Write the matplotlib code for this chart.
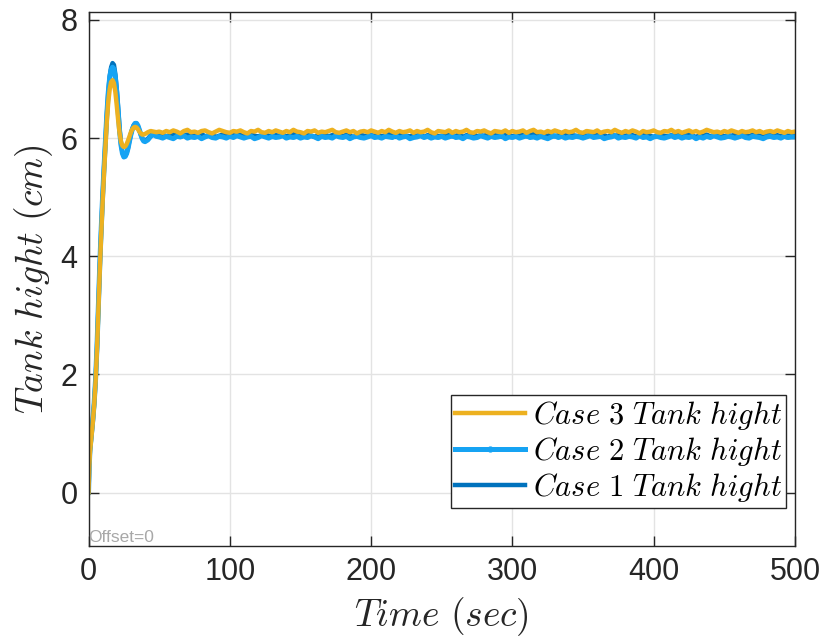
import matplotlib
matplotlib.use('Agg')
import matplotlib.pyplot as plt
from matplotlib.lines import Line2D

plt.rcParams['mathtext.fontset'] = 'cm'
plt.rcParams['font.family'] = ['Liberation Sans', 'DejaVu Sans']

# transient part (t = 0..48 s)
t_start = [0, 0.5, 1, 2, 3, 4, 5, 6, 7, 8, 9, 10, 11, 12, 13, 14, 15, 16, 17, 18,
           19, 20, 21, 22, 23, 24, 25, 26, 27, 28, 29, 30, 31, 32, 33, 34, 35, 36,
           37, 38, 39, 40, 42, 44, 46, 48]

case1_start = [0, 0.45, 0.7, 0.95, 1.2, 1.5, 1.9, 2.45, 3.15, 3.85, 4.45, 5.0, 5.5, 5.95,
               6.4, 6.78, 7.05, 7.2, 7.27, 7.24, 7.08, 6.82, 6.5, 6.15, 5.9, 5.76, 5.7,
               5.7, 5.75, 5.84, 5.96, 6.07, 6.16, 6.22, 6.25, 6.24, 6.2, 6.13, 6.06, 6.0,
               5.97, 5.96, 5.99, 6.05, 6.07, 6.04]
case2_start = [0, 0.45, 0.72, 0.97, 1.22, 1.52, 1.92, 2.48, 3.18, 3.88, 4.48, 5.03, 5.52,
               5.97, 6.42, 6.78, 7.03, 7.16, 7.2, 7.17, 7.02, 6.78, 6.45, 6.12, 5.88,
               5.74, 5.68, 5.69, 5.74, 5.83, 5.95, 6.06, 6.15, 6.21, 6.25, 6.25, 6.21,
               6.14, 6.06, 5.99, 5.95, 5.94, 5.97, 6.03, 6.06, 6.03]
case3_start = [0, 0.43, 0.68, 0.93, 1.18, 1.48, 1.88, 2.42, 3.1, 3.78, 4.38, 4.93, 5.42,
               5.87, 6.3, 6.62, 6.83, 6.95, 6.98, 6.93, 6.78, 6.55, 6.3, 6.08, 5.94,
               5.87, 5.85, 5.86, 5.9, 5.96, 6.03, 6.1, 6.15, 6.18, 6.19, 6.18, 6.15,
               6.11, 6.08, 6.06, 6.06, 6.07, 6.1, 6.12, 6.11, 6.1]

# steady part (t = 50..500 s, every 2.5 s)
t_steady = [50 + 2.5 * i for i in range(181)]

case1_steady = [
    6.04, 6.06, 6.03, 6.05, 6.07, 6.04, 6.02, 6.05, 6.06, 6.03, 6.05, 6.04, 6.07, 6.03, 6.05, 6.06, 6.02, 6.04, 6.06, 6.05,
    6.03, 6.05, 6.04, 6.06, 6.02, 6.05, 6.07, 6.04, 6.03, 6.05, 6.06, 6.04, 6.02, 6.05, 6.04, 6.06, 6.03, 6.05, 6.07, 6.04,
    6.05, 6.03, 6.06, 6.04, 6.02, 6.05, 6.04, 6.06, 6.03, 6.05, 6.07, 6.04, 6.03, 6.06, 6.04, 6.02, 6.05, 6.06, 6.04, 6.03,
    6.05, 6.04, 6.06, 6.03, 6.05, 6.07, 6.04, 6.02, 6.05, 6.06, 6.04, 6.03, 6.05, 6.04, 6.06, 6.02, 6.05, 6.04, 6.07, 6.03,
    6.04, 6.06, 6.05, 6.03, 6.04, 6.06, 6.02, 6.05, 6.04, 6.07, 6.03, 6.05, 6.04, 6.06, 6.03, 6.05, 6.04, 6.02, 6.06, 6.05,
    6.03, 6.05, 6.04, 6.06, 6.03, 6.05, 6.07, 6.04, 6.02, 6.05, 6.04, 6.06, 6.03, 6.05, 6.04, 6.06, 6.02, 6.05, 6.04, 6.03,
    6.06, 6.04, 6.05, 6.03, 6.07, 6.04, 6.05, 6.02, 6.06, 6.04, 6.05, 6.03, 6.04, 6.06, 6.05, 6.03, 6.04, 6.07, 6.05, 6.04,
    6.02, 6.05, 6.06, 6.04, 6.03, 6.05, 6.04, 6.06, 6.03, 6.05, 6.07, 6.04, 6.02, 6.05, 6.04, 6.06, 6.03, 6.05, 6.04, 6.06,
    6.03, 6.05, 6.04, 6.06, 6.02, 6.05, 6.04, 6.03, 6.06, 6.05, 6.04, 6.03, 6.05, 6.07, 6.04, 6.05, 6.03, 6.06, 6.04, 6.05,
    6.04]
case2_steady = [
    6.02, 6.00, 6.03, 6.01, 5.99, 6.03, 6.02, 6.04, 6.00, 6.02, 6.01, 6.03, 5.99, 6.02, 6.04, 6.01, 6.00, 6.03, 6.02, 6.00,
    6.03, 6.01, 6.04, 6.02, 6.00, 6.02, 6.03, 5.99, 6.01, 6.04, 6.02, 6.00, 6.03, 6.01, 6.02, 6.04, 6.00, 6.02, 6.01, 6.03,
    6.00, 6.02, 6.01, 6.04, 6.02, 5.99, 6.03, 6.01, 6.02, 6.00, 6.04, 6.02, 6.01, 6.03, 5.99, 6.02, 6.03, 6.01, 6.00, 6.02,
    6.04, 6.01, 6.02, 6.00, 6.03, 6.02, 6.01, 6.04, 6.00, 6.02, 6.03, 5.99, 6.01, 6.02, 6.04, 6.01, 6.03, 6.00, 6.02, 6.01,
    6.03, 6.00, 6.02, 6.04, 6.01, 6.02, 5.99, 6.03, 6.02, 6.00, 6.01, 6.04, 6.02, 6.00, 6.03, 6.01, 6.02, 6.04, 5.99, 6.02,
    6.01, 6.03, 6.00, 6.02, 6.04, 6.01, 6.02, 6.00, 6.03, 6.01, 5.99, 6.02, 6.04, 6.01, 6.03, 6.00, 6.02, 6.01, 6.03, 6.02,
    6.00, 6.02, 6.04, 6.01, 6.02, 6.03, 5.99, 6.01, 6.02, 6.04, 6.00, 6.02, 6.01, 6.03, 6.02, 6.00, 6.04, 6.01, 6.02, 5.99,
    6.02, 6.03, 6.01, 6.00, 6.02, 6.04, 6.01, 6.03, 6.00, 6.02, 6.01, 6.03, 5.99, 6.02, 6.00, 6.03, 6.01, 6.04, 6.02, 6.00,
    6.01, 6.03, 6.02, 6.00, 6.02, 6.04, 6.01, 6.00, 6.03, 6.02, 6.01, 5.99, 6.02, 6.03, 6.01, 6.02, 6.00, 6.03, 6.01, 6.02,
    6.02]
case3_steady = [
    6.11, 6.09, 6.12, 6.10, 6.13, 6.11, 6.08, 6.12, 6.14, 6.10, 6.11, 6.09, 6.12, 6.13, 6.10, 6.08, 6.11, 6.14, 6.12, 6.10,
    6.09, 6.12, 6.11, 6.13, 6.10, 6.08, 6.12, 6.11, 6.14, 6.10, 6.09, 6.12, 6.10, 6.13, 6.11, 6.09, 6.12, 6.10, 6.14, 6.11,
    6.10, 6.08, 6.12, 6.11, 6.13, 6.09, 6.11, 6.10, 6.12, 6.14, 6.10, 6.09, 6.11, 6.13, 6.10, 6.12, 6.08, 6.11, 6.12, 6.10,
    6.13, 6.11, 6.09, 6.12, 6.10, 6.14, 6.11, 6.09, 6.12, 6.10, 6.11, 6.13, 6.09, 6.12, 6.10, 6.11, 6.14, 6.10, 6.08, 6.12,
    6.11, 6.10, 6.13, 6.09, 6.12, 6.10, 6.11, 6.14, 6.10, 6.09, 6.12, 6.11, 6.13, 6.10, 6.08, 6.12, 6.11, 6.10, 6.13, 6.09,
    6.12, 6.10, 6.11, 6.13, 6.09, 6.12, 6.14, 6.10, 6.11, 6.09, 6.12, 6.10, 6.13, 6.11, 6.09, 6.12, 6.10, 6.11, 6.14, 6.10,
    6.09, 6.12, 6.11, 6.10, 6.13, 6.09, 6.11, 6.12, 6.10, 6.14, 6.11, 6.09, 6.12, 6.10, 6.13, 6.11, 6.08, 6.12, 6.10, 6.11,
    6.13, 6.10, 6.09, 6.12, 6.11, 6.14, 6.10, 6.12, 6.09, 6.11, 6.13, 6.10, 6.12, 6.09, 6.11, 6.14, 6.12, 6.10, 6.11, 6.09,
    6.12, 6.10, 6.13, 6.11, 6.09, 6.12, 6.10, 6.11, 6.13, 6.10, 6.12, 6.09, 6.11, 6.12, 6.10, 6.13, 6.11, 6.09, 6.12, 6.10,
    6.11]

t_all = t_start + t_steady
case1 = case1_start + case1_steady
case2 = case2_start + case2_steady
case3 = case3_start + case3_steady

c1 = '#0072BD'
c2 = '#16A3F3'
c3 = '#EDB120'
labels = [r'$Case\ 1\ Tank\ hight$', r'$Case\ 2\ Tank\ hight$', r'$Case\ 3\ Tank\ hight$']

fig = plt.figure(figsize=(8.25, 6.43), dpi=100)
ax = fig.add_axes([0.1073, 0.1513, 0.8563, 0.8305])

ax.plot(t_all, case1, color=c1, lw=3.2, solid_joinstyle='round')
ax.plot(t_all, case2, color=c2, lw=3.6, solid_joinstyle='round')
ax.plot(t_all, case3, color=c3, lw=3.2, solid_joinstyle='round')

ax.set_xlim(0, 500)
ax.set_ylim(-0.9, 8.14)
ax.set_xticks([0, 100, 200, 300, 400, 500])
ax.set_yticks([0, 2, 4, 6, 8])
ax.grid(True, color='#E3E3E3', lw=1)
ax.set_axisbelow(True)

for s in ax.spines.values():
    s.set_color('#262626')
    s.set_linewidth(1.0)
ax.tick_params(direction='in', length=7, width=1, color='#262626',
               top=True, right=True, labelsize=22, labelcolor='#262626', pad=8)

ax.set_xlabel(r'$Time\ (sec)$', fontsize=27, color='#262626', labelpad=6)
ax.set_ylabel(r'$Tank\ hight\ (cm)$', fontsize=27, color='#262626', labelpad=4)

ax.text(0.0, 0.002, 'Offset=0', transform=ax.transAxes, fontsize=12.5,
        color='#A8A8A8', ha='left', va='bottom')

handles = [Line2D([], [], color=c3, lw=3.2),
           Line2D([], [], color=c2, lw=3.6, marker='.', markersize=7),
           Line2D([], [], color=c1, lw=3.2)]
leg = ax.legend(handles, labels[::-1], loc='lower right', fontsize=22,
                bbox_to_anchor=(0.987, 0.071),
                fancybox=False, framealpha=1, edgecolor='#262626',
                handlelength=2.3, handletextpad=0.25, borderpad=0.12,
                labelspacing=0.1, borderaxespad=0.0, numpoints=1)
leg.get_frame().set_linewidth(1.0)

fig.savefig('out.png', dpi=100)
